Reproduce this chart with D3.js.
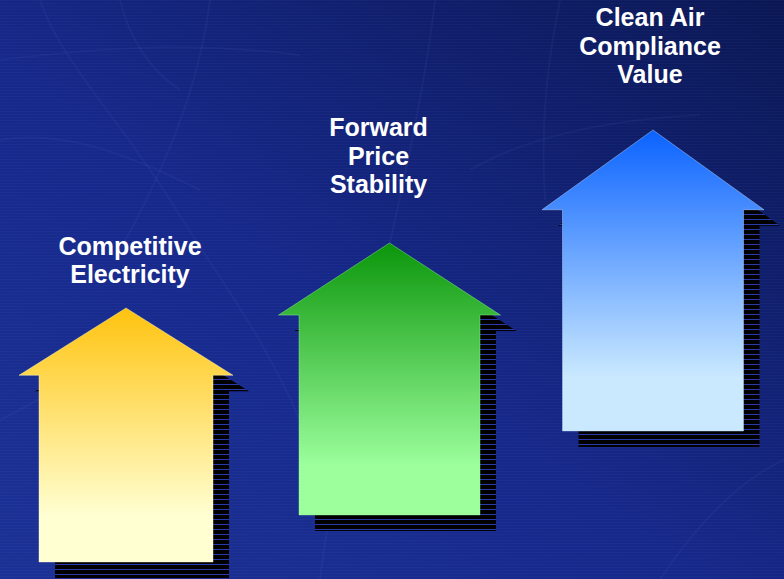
<!DOCTYPE html>
<html>
<head>
<meta charset="utf-8">
<script src="https://cdn.jsdelivr.net/npm/d3@7"></script>
<style>
  html, body { margin: 0; padding: 0; background: #14257f; }
  svg { display: block; }
</style>
</head>
<body>
<svg id="chart" width="784" height="579"></svg>
<script>
// ---- data ----
const categories = ["Competitive Electricity", "Forward Price Stability", "Clean Air Compliance Value"];
const labelLines = [["Competitive", "Electricity"], ["Forward", "Price", "Stability"], ["Clean Air", "Compliance", "Value"]];
const tipLevels = [271, 336, 449];   // level of arrow tip
const baseLevels = [17, 64, 148];    // level of arrow base
const topColors = ["#ffc30f", "#0b960b", "#0a62ff"];
const bottomColors = ["#ffffd2", "#9cff9c", "#cae9ff"];

// ---- layout ----
const W = 784, H = 579;
const svg = d3.select("#chart");
const defs = svg.append("defs");

const x = d3.scalePoint().domain(categories).range([126, 653]).padding(0);
const y = d3.scaleLinear().domain([0, H]).range([H, 0]);

// background gradient
const bg = defs.append("linearGradient").attr("id", "bg")
  .attr("x1", "0%").attr("y1", "100%").attr("x2", "100%").attr("y2", "0%");
bg.append("stop").attr("offset", "0%").attr("stop-color", "#1c3196");
bg.append("stop").attr("offset", "45%").attr("stop-color", "#16288a");
bg.append("stop").attr("offset", "100%").attr("stop-color", "#0a1754");
svg.append("rect").attr("width", W).attr("height", H).attr("fill", "url(#bg)");

// faint scanline texture
const tex = defs.append("pattern").attr("id", "tex").attr("patternUnits", "userSpaceOnUse")
  .attr("width", 8).attr("height", 3);
tex.append("rect").attr("width", 8).attr("height", 1).attr("fill", "#ffffff").attr("opacity", 0.025);
svg.append("rect").attr("width", W).attr("height", H).attr("fill", "url(#tex)");

// faint sketch lines
const sketch = [
  "M40,0 C60,60 120,120 170,200 S260,330 300,420",
  "M210,0 C200,80 170,160 120,250",
  "M435,0 C425,90 400,200 370,330 S330,500 320,579",
  "M0,60 C80,50 180,40 300,55",
  "M0,140 C60,130 120,150 200,190",
  "M560,0 C548,60 540,120 545,200",
  "M660,579 C700,520 740,480 784,460",
  "M0,420 C40,400 80,380 110,330",
  "M470,170 C520,140 600,120 700,115",
  "M120,0 C130,40 150,70 180,90"
];
svg.append("g").selectAll("path").data(sketch).join("path")
  .attr("d", d => d).attr("fill", "none")
  .attr("stroke", "#9fb3ff").attr("stroke-opacity", 0.05).attr("stroke-width", 2);

// shadow stripe pattern
const sp = defs.append("pattern").attr("id", "stripes").attr("patternUnits", "userSpaceOnUse")
  .attr("width", 10).attr("height", 5);
sp.append("rect").attr("width", 10).attr("height", 5).attr("fill", "#000000");
sp.append("rect").attr("y", 4).attr("width", 10).attr("height", 1).attr("fill", "#2a3aa8");

// arrow gradients
categories.forEach((c, i) => {
  const g = defs.append("linearGradient").attr("id", "ag" + i)
    .attr("x1", 0).attr("y1", 0).attr("x2", 0).attr("y2", 1);
  g.append("stop").attr("offset", "0%").attr("stop-color", topColors[i]);
  g.append("stop").attr("offset", "82%").attr("stop-color", bottomColors[i]);
  g.append("stop").attr("offset", "100%").attr("stop-color", bottomColors[i]);
});

const headHalf = [107, 111, 111];
const bodyHalf = [87, 90.5, 90.5];

function arrowPath(i, dx, dy) {
  const cx = x(categories[i]) + dx;
  const top = y(tipLevels[i]) + dy;
  const bot = y(baseLevels[i]) + dy;
  const headH = (bot - top) * 0.265;
  const hb = top + headH;
  const p = d3.path();
  p.moveTo(cx, top);
  p.lineTo(cx + headHalf[i], hb);
  p.lineTo(cx + bodyHalf[i], hb);
  p.lineTo(cx + bodyHalf[i], bot);
  p.lineTo(cx - bodyHalf[i], bot);
  p.lineTo(cx - bodyHalf[i], hb);
  p.lineTo(cx - headHalf[i], hb);
  p.closePath();
  return p.toString();
}

const arrows = svg.append("g").selectAll("g").data(categories).join("g");
arrows.append("path").attr("d", (d, i) => arrowPath(i, 16, 16)).attr("fill", "url(#stripes)");
arrows.append("path").attr("d", (d, i) => arrowPath(i, 0, 0))
  .attr("fill", (d, i) => `url(#ag${i})`)
  .attr("stroke", (d, i) => bottomColors[i]).attr("stroke-opacity", 0.5).attr("stroke-width", 0.8);

// labels
const labelNudgeX = [4, -11, -3];
const labelGap = [25, 50, 47];   // gap from last baseline to arrow tip
const lineH = 28.3;
arrows.append("text")
  .attr("text-anchor", "middle")
  .attr("font-family", "'Liberation Sans', Arial, sans-serif")
  .attr("font-weight", "bold")
  .attr("font-size", 25)
  .attr("fill", "#ffffff")
  .each(function (d, i) {
    const lines = labelLines[i];
    const cx = x(d) + labelNudgeX[i];
    const topY = y(tipLevels[i]);
    const firstBase = topY - labelGap[i] - (lines.length - 1) * lineH;
    d3.select(this).selectAll("tspan").data(lines).join("tspan")
      .attr("x", cx)
      .attr("y", (t, k) => firstBase + k * lineH)
      .text(t => t);
  });
</script>
</body>
</html>
